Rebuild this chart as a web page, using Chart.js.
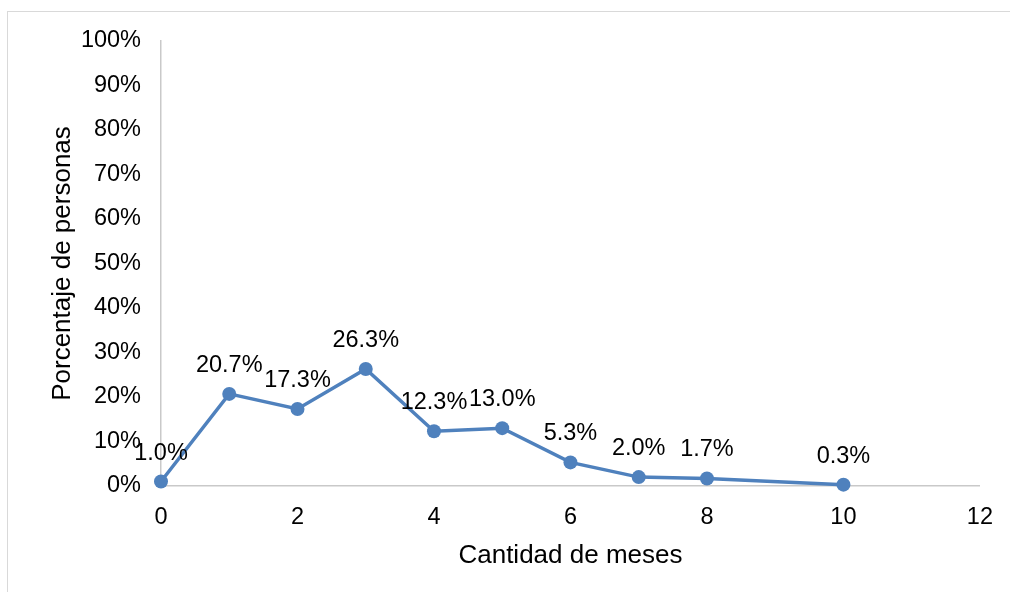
<!DOCTYPE html>
<html>
<head>
<meta charset="utf-8">
<script src="https://cdn.jsdelivr.net/npm/chart.js@4"></script>
<style>
  html, body { margin: 0; padding: 0; background: #fff; }
  #wrap { position: relative; width: 1010px; height: 592px; overflow: hidden; }
  #marco { position: absolute; left: 7px; top: 11px; width: 1010px; height: 600px; border: 1px solid #d9d9d9; box-sizing: border-box; }
  #chart { position: absolute; left: 0; top: 0; }
</style>
</head>
<body>
<div id="wrap">
  <div id="marco"></div>
  <canvas id="chart" width="1010" height="592"></canvas>
</div>
<script>
const meses = [0, 1, 2, 3, 4, 5, 6, 7, 8, 10];
const porcentajes = [1.0, 20.7, 17.3, 26.3, 12.3, 13.0, 5.3, 2.0, 1.7, 0.3];
const tituloX = 'Cantidad de meses';
const tituloY = 'Porcentaje de personas';

const FUENTE = '"Liberation Sans", Arial, sans-serif';
const AZUL = '#4F81BD';

// etiquetas de datos encima de cada punto
const etiquetas = {
  id: 'etiquetas',
  afterDatasetsDraw(chart) {
    const ctx = chart.ctx;
    const meta = chart.getDatasetMeta(0);
    ctx.save();
    ctx.font = '23.5px ' + FUENTE;
    ctx.fillStyle = '#000';
    ctx.textAlign = 'center';
    ctx.textBaseline = 'alphabetic';
    meta.data.forEach((pt, i) => {
      ctx.fillText(porcentajes[i].toFixed(1) + '%', pt.x, pt.y - 22);
    });
    ctx.restore();
  }
};

new Chart(document.getElementById('chart'), {
  type: 'scatter',
  data: {
    datasets: [{
      data: meses.map((m, i) => ({ x: m, y: porcentajes[i] })),
      showLine: true,
      clip: false,
      borderColor: AZUL,
      backgroundColor: AZUL,
      borderWidth: 3.5,
      pointRadius: 7,
      pointBorderWidth: 0,
      pointBackgroundColor: AZUL,
      tension: 0
    }]
  },
  options: {
    responsive: false,
    animation: false,
    layout: { padding: { left: 43, top: 41, right: 28, bottom: 17 } },
    plugins: {
      legend: { display: false },
      tooltip: { enabled: false }
    },
    scales: {
      x: {
        type: 'linear',
        min: 0,
        max: 12,
        ticks: { stepSize: 2, padding: 17, color: '#000', font: { family: FUENTE, size: 23.5 } },
        grid: { color: 'rgba(0,0,0,0)', drawTicks: false },
        border: { color: '#c9c9c9', width: 1.5 },
        title: { display: true, text: tituloX, color: '#000', font: { family: FUENTE, size: 26 } },
        afterFit(scale) { scale.height = 89; }
      },
      y: {
        min: 0,
        max: 100,
        ticks: { stepSize: 10, padding: 20, color: '#000', font: { family: FUENTE, size: 23.5 },
          callback: v => v + '%' },
        grid: { color: 'rgba(0,0,0,0)', drawTicks: false },
        border: { color: '#c9c9c9', width: 1.5 },
        title: { display: true, text: tituloY, color: '#000', font: { family: FUENTE, size: 26 } },
        afterFit(scale) { scale.width = 118; }
      }
    }
  },
  plugins: [etiquetas]
});
</script>
</body>
</html>
